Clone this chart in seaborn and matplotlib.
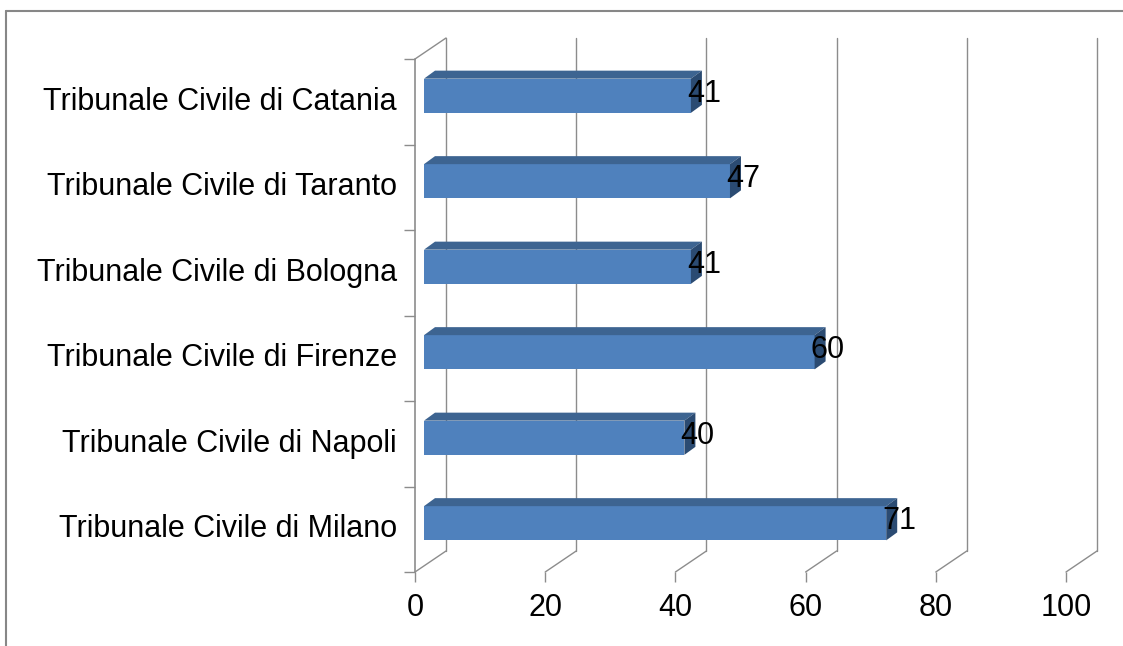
import numpy as np
import pandas as pd
import matplotlib
matplotlib.use("Agg")
import matplotlib.pyplot as plt
from matplotlib.patches import Polygon
from matplotlib.lines import Line2D
from matplotlib.transforms import ScaledTranslation, IdentityTransform
import seaborn as sns

categories = ["Tribunale Civile di Catania", "Tribunale Civile di Taranto",
              "Tribunale Civile di Bologna", "Tribunale Civile di Firenze",
              "Tribunale Civile di Napoli", "Tribunale Civile di Milano"]
values = [41, 47, 41, 60, 40, 71]
xticks = [0, 20, 40, 60, 80, 100]

sns.set_theme(style="white")
plt.rcParams['font.family'] = ['Liberation Sans', 'DejaVu Sans']

W, H = 1123, 646
fig = plt.figure(figsize=(W / 100, H / 100), dpi=100)
ax = fig.add_axes([415 / W, (H - 572) / H, 651 / W, (572 - 59) / H])

df = pd.DataFrame({"cat": categories, "val": values})
sns.barplot(data=df, x="val", y="cat", orient="h", color="#4F81BD",
            saturation=1, width=0.4, ax=ax, zorder=3)
ax.set_xlim(0, 100)
ax.set_ylim(len(categories) - 0.5, -0.5)
ax.set_xlabel("")
ax.set_ylabel("")
for s in ax.spines.values():
    s.set_visible(False)

grid_c = "#8C8C8C"
DX, DY = 31, 21          # full wall depth (pixels)
bdx0, bdy0 = 9, 6        # bar front face depth
bdx, bdy = 11, 8         # bar depth

fig.canvas.draw()
T = ax.transData
I = IdentityTransform()
def px(x, y):
    return T.transform((x, y))

def line(xs, ys, lw=1.0):
    ax.add_line(Line2D(xs, ys, transform=I, color=grid_c, lw=lw,
                       zorder=1, clip_on=False))

y_top = -0.5
y_bot = len(categories) - 0.5
for xv in xticks:
    fx, fy_b = px(xv, y_bot)
    _, fy_t = px(xv, y_top)
    line([fx + DX, fx + DX], [fy_b + DY, fy_t + DY])
    line([fx, fx + DX], [fy_b, fy_b + DY])
fx, fy_b = px(0, y_bot)
_, fy_t = px(0, y_top)
line([fx, fx], [fy_b, fy_t], lw=1.2)
line([fx, fx + DX], [fy_t, fy_t + DY])

off = ScaledTranslation(bdx0 / 100, bdy0 / 100, fig.dpi_scale_trans)
for p, v in zip(list(ax.patches), values):
    x0, y0 = p.get_x(), p.get_y()
    w, h = p.get_width(), p.get_height()
    p.set_transform(T + off)
    p.set_edgecolor("none")
    (lx, ty) = px(x0, y0)
    (rx, by) = px(x0 + w, y0 + h)
    lx += bdx0; rx += bdx0; ty += bdy0; by += bdy0
    top = Polygon([[lx, ty], [rx, ty], [rx + bdx, ty + bdy], [lx + bdx, ty + bdy]],
                  closed=True, transform=I, facecolor="#3D6491",
                  edgecolor="none", zorder=4, clip_on=False)
    side = Polygon([[rx, ty], [rx + bdx, ty + bdy], [rx + bdx, by + bdy], [rx, by]],
                   closed=True, transform=I, facecolor="#2B4B72",
                   edgecolor="none", zorder=4, clip_on=False)
    ax.add_patch(top)
    ax.add_patch(side)
    ax.annotate(f"{v}", xy=(v, y0 + h / 2), xytext=(22, 8),
                textcoords="offset pixels", ha="center", va="center",
                fontsize=22, color="black", zorder=6, annotation_clip=False)

ax.set_xticks(xticks)
ax.set_xticklabels([str(t) for t in xticks], fontsize=22, color="black")
ax.tick_params(axis="x", which="major", direction="out", length=7,
               color=grid_c, width=1, pad=8, bottom=True)
ax.set_yticks(range(len(categories)))
ax.set_yticklabels(categories, fontsize=22, color="black")
ax.tick_params(axis="y", which="major", length=0, pad=13, left=True)
ax.set_yticks(np.arange(-0.5, len(categories), 1.0), minor=True)
ax.tick_params(axis="y", which="minor", direction="out", length=8,
               color=grid_c, width=1, left=True)
for t in ax.get_yticklabels():
    t.set_va("center")

fig.add_artist(Line2D([5.5, W], [H - 10.5, H - 10.5], transform=I,
                      color="#878787", lw=1.5))
fig.add_artist(Line2D([5.5, 5.5], [0, H - 10.5], transform=I,
                      color="#878787", lw=1.5))

fig.savefig("out.png", dpi=100)
